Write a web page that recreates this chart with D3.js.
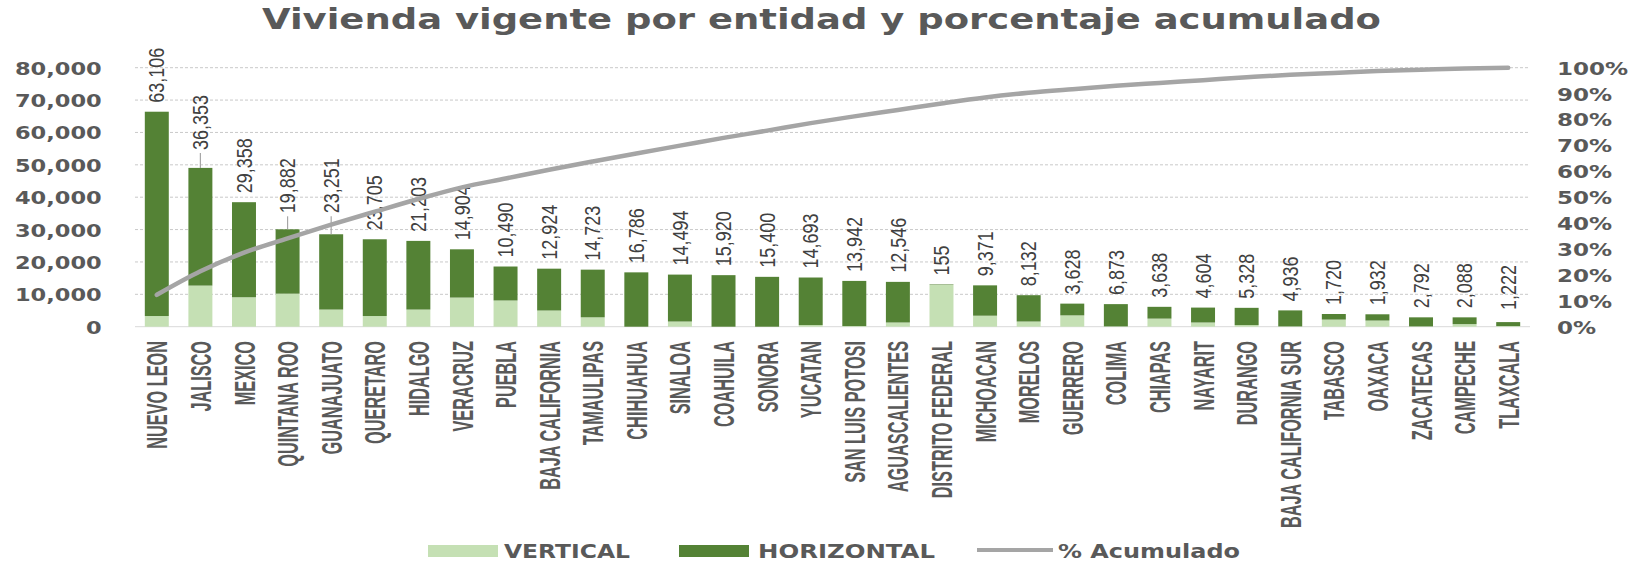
<!DOCTYPE html>
<html>
<head>
<meta charset="utf-8">
<script src="https://cdn.jsdelivr.net/npm/d3@7"></script>
<style>
  body { margin: 0; background: #fff; }
  svg { display: block; }
</style>
</head>
<body>
<div id="vis1"></div>
<script>
// data
const estados = ["NUEVO LEON", "JALISCO", "MEXICO", "QUINTANA ROO", "GUANAJUATO", "QUERETARO",
  "HIDALGO", "VERACRUZ", "PUEBLA", "BAJA CALIFORNIA", "TAMAULIPAS", "CHIHUAHUA", "SINALOA",
  "COAHUILA", "SONORA", "YUCATAN", "SAN LUIS POTOSI", "AGUASCALIENTES", "DISTRITO FEDERAL",
  "MICHOACAN", "MORELOS", "GUERRERO", "COLIMA", "CHIAPAS", "NAYARIT", "DURANGO",
  "BAJA CALIFORNIA SUR", "TABASCO", "OAXACA", "ZACATECAS", "CAMPECHE", "TLAXCALA"];

// estimated from the light green part of each bar
const vertical = [3300, 12700, 9100, 10200, 5300, 3300, 5300, 9000, 8100, 5000, 2900, 0, 1600,
  0, 0, 500, 200, 1300, 12900, 3400, 1600, 3500, 100, 2500, 1300, 500, 100, 2200, 1900, 100, 800, 200];

// labelled values (dark green part)
const horizontal = [63106, 36353, 29358, 19882, 23251, 23705, 21203, 14904, 10490, 12924, 14723,
  16786, 14494, 15920, 15400, 14693, 13942, 12546, 155, 9371, 8132, 3628, 6873, 3638, 4604, 5328,
  4936, 1720, 1932, 2792, 2088, 1222];

// % acumulado line
const acumulado = [12.3, 21.4, 28.6, 34.1, 39.4, 44.4, 49.3, 53.8, 57.2, 60.6, 63.8, 66.9, 69.9,
  72.9, 75.7, 78.6, 81.2, 83.7, 86.2, 88.5, 90.3, 91.7, 93.0, 94.1, 95.2, 96.3, 97.3, 98.0, 98.7,
  99.2, 99.7, 100];

const yTicks = [0, 10000, 20000, 30000, 40000, 50000, 60000, 70000, 80000];
const pctTicks = [0, 10, 20, 30, 40, 50, 60, 70, 80, 90, 100];

const title = "Vivienda vigente por entidad y porcentaje acumulado";
const seriesNames = ["VERTICAL", "HORIZONTAL", "% Acumulado"];

// ---------------------------------------------------------------
const W = 1640, H = 562;
const colLight = "#c5e0b4", colDark = "#548235", colLine = "#a5a5a5", colText = "#595959";
const boldFont = "'DejaVu Sans', Verdana, sans-serif";
const plainFont = "'Liberation Sans', Arial, sans-serif";

const data = estados.map((e, i) => ({
  estado: e, vertical: vertical[i], horizontal: horizontal[i], pct: acumulado[i]
}));

let svg = d3.select("#vis1").append("svg")
  .attr("width", W).attr("height", H)
  .attr("viewBox", [0, 0, W, H].join(" "));

let x = d3.scaleBand()
  .domain(estados)
  .range([135, 1530])
  .paddingInner(0.45)
  .paddingOuter(0.225);

let y = d3.scaleLinear().domain([0, 80000]).range([326.7, 67.7]);
let y2 = d3.scaleLinear().domain([0, 100]).range([326.7, 67.7]);

// gridlines
svg.append("g")
  .selectAll("line")
  .data(yTicks.slice(1))
  .join("line")
    .attr("x1", 135).attr("x2", 1530)
    .attr("y1", d => y(d)).attr("y2", d => y(d))
    .attr("stroke", "#c9c9c9")
    .attr("stroke-dasharray", "3,2");

svg.append("line")
  .attr("x1", 135).attr("x2", 1530)
  .attr("y1", y(0)).attr("y2", y(0))
  .attr("stroke", "#d9d9d9");

// left axis
let yAxis = svg.append("g")
  .attr("transform", "translate(101.7,0)")
  .call(d3.axisLeft(y).tickValues(yTicks).tickFormat(d3.format(",")).tickSize(0));
yAxis.select(".domain").remove();
yAxis.selectAll("text")
  .attr("x", 0)
  .attr("dy", "0.36em")
  .attr("transform", "scale(1.25,1)")
  .attr("fill", colText)
  .attr("font-family", boldFont)
  .attr("font-weight", "bold")
  .attr("font-size", 18);

// right axis
let y2Axis = svg.append("g")
  .attr("transform", "translate(1557,0)")
  .call(d3.axisRight(y2).tickValues(pctTicks).tickFormat(d => d + "%").tickSize(0));
y2Axis.select(".domain").remove();
y2Axis.selectAll("text")
  .attr("x", 0)
  .attr("dy", "0.36em")
  .attr("transform", "scale(1.28,1)")
  .attr("fill", colText)
  .attr("font-family", boldFont)
  .attr("font-weight", "bold")
  .attr("font-size", 18);

// stacked bars
let series = d3.stack().keys(["vertical", "horizontal"])(data);
let color = d3.scaleOrdinal().domain(["vertical", "horizontal"]).range([colLight, colDark]);

svg.append("g")
  .selectAll("g")
  .data(series)
  .join("g")
    .attr("fill", d => color(d.key))
  .selectAll("rect")
  .data(d => d)
  .join("rect")
    .attr("x", d => x(d.data.estado))
    .attr("y", d => y(d[1]))
    .attr("height", d => y(d[0]) - y(d[1]))
    .attr("width", x.bandwidth());

// category labels (rotated, condensed look)
svg.append("g")
  .selectAll("text")
  .data(estados)
  .join("text")
    .attr("transform", d => `translate(${x(d) + x.bandwidth() / 2},341) rotate(-90) scale(1,1.8)`)
    .attr("text-anchor", "end")
    .attr("dy", "0.36em")
    .attr("fill", colText)
    .attr("font-family", plainFont)
    .attr("font-weight", "bold")
    .attr("font-size", 16.3)
    .text(d => d);

// value labels: a few were pulled up with leader lines in the original
const pulled = { "JALISCO": 18, "QUINTANA ROO": 16, "GUANAJUATO": 21 };
let labelBottom = d => {
  let top = y(d.vertical + d.horizontal);
  if (pulled[d.estado]) return top - pulled[d.estado];
  return Math.min(top - 9, 310);
};

svg.append("g")
  .selectAll("line")
  .data(data.filter(d => pulled[d.estado]))
  .join("line")
    .attr("x1", d => x(d.estado) + x.bandwidth() / 2)
    .attr("x2", d => x(d.estado) + x.bandwidth() / 2)
    .attr("y1", d => labelBottom(d) + 3)
    .attr("y2", d => y(d.vertical + d.horizontal))
    .attr("stroke", "#a6a6a6")
    .attr("stroke-width", 1.2);

svg.append("g")
  .selectAll("text")
  .data(data)
  .join("text")
    .attr("transform", d => `translate(${x(d.estado) + x.bandwidth() / 2},${labelBottom(d)}) rotate(-90) scale(1,1.18)`)
    .attr("text-anchor", "start")
    .attr("dy", "0.36em")
    .attr("fill", "#404040")
    .attr("font-family", plainFont)
    .attr("font-size", 18)
    .text(d => d3.format(",")(d.horizontal));

// cumulative line
let line = d3.line()
  .x(d => x(d.estado) + x.bandwidth() / 2)
  .y(d => y2(d.pct))
  .curve(d3.curveMonotoneX);

svg.append("path")
  .datum(data)
  .attr("d", line)
  .attr("fill", "none")
  .attr("stroke", colLine)
  .attr("stroke-width", 4.5)
  .attr("stroke-linecap", "round");

// title
svg.append("text")
  .attr("x", 821.5)
  .attr("y", 29)
  .attr("text-anchor", "middle")
  .attr("textLength", 1119)
  .attr("lengthAdjust", "spacingAndGlyphs")
  .attr("fill", colText)
  .attr("font-family", boldFont)
  .attr("font-weight", "bold")
  .attr("font-size", 28)
  .text(title);

// legend
let legend = svg.append("g").attr("font-family", boldFont).attr("font-weight", "bold")
  .attr("font-size", 19).attr("fill", colText);

legend.append("rect").attr("x", 428).attr("y", 545).attr("width", 70).attr("height", 12).attr("fill", colLight);
legend.append("text").attr("x", 504).attr("y", 557.5).attr("textLength", 126)
  .attr("lengthAdjust", "spacingAndGlyphs").text(seriesNames[0]);

legend.append("rect").attr("x", 679).attr("y", 545).attr("width", 70).attr("height", 12).attr("fill", colDark);
legend.append("text").attr("x", 758).attr("y", 557.5).attr("textLength", 177)
  .attr("lengthAdjust", "spacingAndGlyphs").text(seriesNames[1]);

legend.append("line").attr("x1", 977).attr("x2", 1053).attr("y1", 550).attr("y2", 550)
  .attr("stroke", colLine).attr("stroke-width", 4);
legend.append("text").attr("x", 1058).attr("y", 557.5).attr("textLength", 182)
  .attr("lengthAdjust", "spacingAndGlyphs").text(seriesNames[2]);
</script>
</body>
</html>
